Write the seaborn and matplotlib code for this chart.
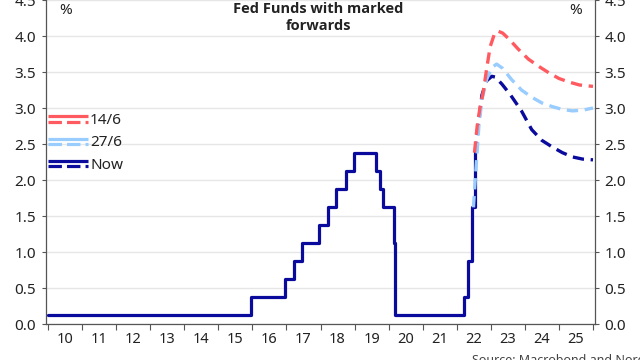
import matplotlib
matplotlib.use("Agg")
import matplotlib.pyplot as plt
import seaborn as sns
import pandas as pd
import numpy as np
from matplotlib.lines import Line2D
from matplotlib.legend_handler import HandlerBase

# ---- data ----
step_x = [2010.0, 2015.96, 2016.96, 2017.21, 2017.45, 2017.95, 2018.21, 2018.45,
          2018.74, 2018.97, 2019.62, 2019.74, 2019.83, 2020.16, 2020.2, 2022.2,
          2022.33, 2022.45, 2022.55]
step_y = [0.125, 0.375, 0.625, 0.875, 1.125, 1.375, 1.625, 1.875,
          2.125, 2.375, 2.125, 1.875, 1.625, 1.125, 0.125, 0.375,
          0.875, 1.625, 2.375]

now_x = [2022.55, 2022.64, 2022.74, 2022.88, 2023.03, 2023.13, 2023.33, 2023.58,
         2023.9, 2024.2, 2024.5, 2024.8, 2025.1, 2025.4, 2025.7, 2026.0]
now_y = [2.375, 2.8, 3.18, 3.38, 3.44, 3.43, 3.33, 3.18,
         2.96, 2.7, 2.55, 2.46, 2.38, 2.32, 2.29, 2.28]

jun27_x = [2022.49, 2022.57, 2022.65, 2022.74, 2022.88, 2023.03, 2023.17, 2023.35,
           2023.6, 2023.9, 2024.2, 2024.5, 2024.8, 2025.1, 2025.4, 2025.7, 2026.0]
jun27_y = [1.62, 2.2, 2.75, 3.12, 3.4, 3.56, 3.61, 3.55,
           3.4, 3.25, 3.15, 3.07, 3.02, 2.98, 2.96, 2.97, 3.0]

jun14_x = [2022.52, 2022.6, 2022.68, 2022.77, 2022.88, 2022.98, 2023.1, 2023.2,
           2023.35, 2023.55, 2023.8, 2024.1, 2024.4, 2024.7, 2025.0, 2025.3,
           2025.6, 2026.0]
jun14_y = [2.38, 2.75, 3.0, 3.2, 3.55, 3.85, 4.02, 4.07,
           4.04, 3.95, 3.82, 3.68, 3.58, 3.49, 3.41, 3.36,
           3.32, 3.3]

series_labels = ["14/6", "27/6", "Now"]
year_labels = [str(y)[2:] for y in range(2010, 2026)]
y_ticks = [0.0, 0.5, 1.0, 1.5, 2.0, 2.5, 3.0, 3.5, 4.0, 4.5]

NAVY = "#0A0A9C"
LBLUE = "#99CCFF"
RED = "#FF5A5F"

sns.set_theme(style="white")
plt.rcParams["font.family"] = ["Noto Sans", "DejaVu Sans"]

fig = plt.figure(figsize=(6.4, 3.6), dpi=100)
ax = fig.add_axes([46 / 640, 1 - 324 / 360, (595 - 46) / 640, 324 / 360])

sns.lineplot(x=step_x, y=step_y, ax=ax, color=NAVY, lw=2.3,
             drawstyle="steps-post", sort=False, zorder=3)
for xs, ys, c, z in [(now_x, now_y, NAVY, 4), (jun27_x, jun27_y, LBLUE, 5),
                     (jun14_x, jun14_y, RED, 6)]:
    n_before = len(ax.lines)
    sns.lineplot(x=xs, y=ys, ax=ax, color=c, lw=2.4, sort=False, zorder=z)
    for ln in ax.lines[n_before:]:
        ln.set_linestyle((0, (3.4, 2.0)))
        ln.set_dash_capstyle("butt")

ax.set_xlim(2010 - 2 / 34.06, 2026 + 2 / 34.06)
ax.set_ylim(0, 4.5)

ax.set_yticks(y_ticks)
ax.set_yticklabels([f"{v:.1f}" for v in y_ticks])
ax.yaxis.grid(True, color="#e6e6e6", lw=1)
ax.xaxis.grid(False)
ax.tick_params(axis="y", which="both", left=True, right=True, labelleft=True,
               labelright=True, length=3, width=0.8, color="#555555",
               labelsize=11, labelcolor="#222222", pad=2)
ax.tick_params(axis="y", labelright=True, pad=4)

ax.set_xticks(list(range(2010, 2027)))
ax.set_xticklabels([])
ax.set_xticks([y + 0.5 for y in range(2010, 2026)], minor=True)
ax.set_xticklabels(year_labels, minor=True)
ax.tick_params(axis="x", which="major", bottom=True, length=4, width=0.8,
               color="#555555")
ax.tick_params(axis="x", which="minor", bottom=True, length=0, labelsize=10.5,
               labelcolor="#222222", pad=6)

for side in ["left", "right", "bottom"]:
    ax.spines[side].set_visible(True)
    ax.spines[side].set_color("#555555")
    ax.spines[side].set_linewidth(0.9)
ax.spines["top"].set_visible(False)
ax.set_xlabel("")
ax.set_ylabel("")


class DoubleLine(HandlerBase):
    def create_artists(self, legend, orig_handle, xdescent, ydescent, width,
                       height, fontsize, trans):
        c = orig_handle.get_color()
        x0, x1 = -xdescent, -xdescent + width
        ya = -ydescent + height * 0.72
        yb = -ydescent + height * 0.22
        l1 = Line2D([x0, x1], [ya, ya], color=c, lw=2.3, solid_capstyle="butt")
        l2 = Line2D([x0, x1], [yb, yb], color=c, lw=2.3,
                    linestyle=(0, (4.2, 1.6)), dash_capstyle="butt")
        for l in (l1, l2):
            l.set_transform(trans)
        return [l1, l2]


proxies = [Line2D([], [], color=RED), Line2D([], [], color=LBLUE),
           Line2D([], [], color=NAVY)]
fig.legend(proxies, series_labels, handler_map={Line2D: DoubleLine()},
           loc="upper left", bbox_to_anchor=(48 / 640, 1 - 113 / 360),
           frameon=False, fontsize=11, handlelength=2.6, handletextpad=0.15,
           labelspacing=0.48, borderpad=0, borderaxespad=0, labelcolor="#222222")

fig.text(318 / 640, 1 - 2 / 360, "Fed Funds with marked\nforwards", ha="center",
         va="top", fontsize=10.5, fontweight="bold", color="#222222",
         family=["Open Sans", "Lato", "DejaVu Sans"], linespacing=1.3)
fig.text(66 / 640, 1 - 11 / 360, "%", ha="center", va="center", fontsize=11,
         color="#222222")
fig.text(576 / 640, 1 - 11 / 360, "%", ha="center", va="center", fontsize=11,
         color="#222222")
fig.text(472 / 640, 1 - 354 / 360, "Source: Macrobond and Nordea", ha="left",
         va="top", fontsize=9, color="#444444")

fig.savefig("out.png", dpi=100)
